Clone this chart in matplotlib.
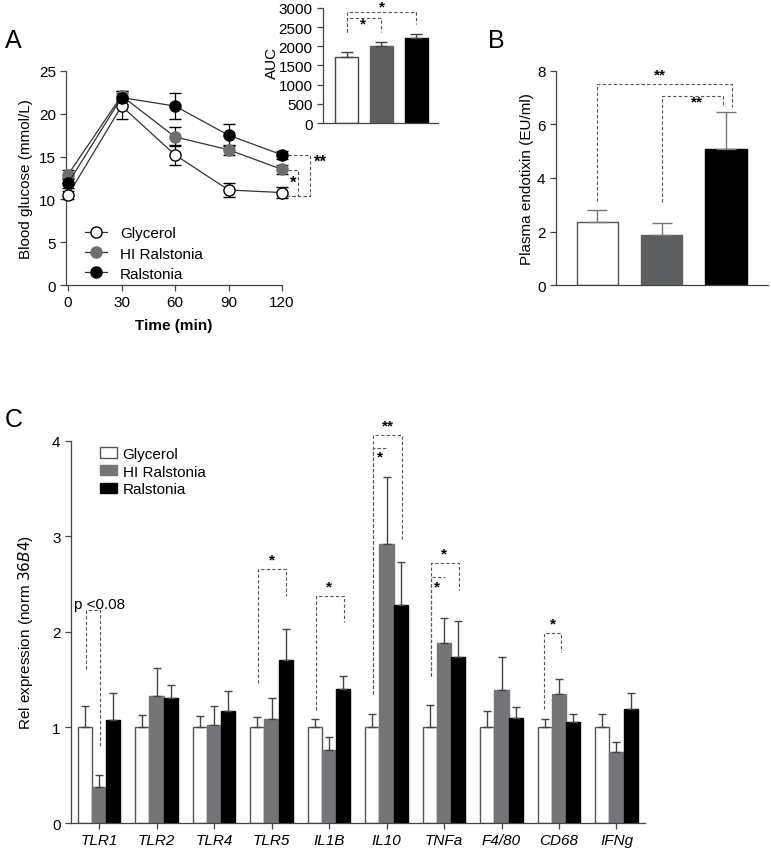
import matplotlib
matplotlib.use("Agg")
import matplotlib.pyplot as plt
from matplotlib.lines import Line2D
import numpy as np

plt.rcParams["font.family"] = ["Liberation Sans", "DejaVu Sans"]
plt.rcParams["font.size"] = 11

# ── data ─────────────────────────────────────────────────────────────
groups = ["Glycerol", "HI Ralstonia", "Ralstonia"]

# panel A: glucose tolerance test
time_min = [0, 30, 60, 90, 120]
gly_glucose = [10.5, 20.9, 15.2, 11.1, 10.8]
gly_glucose_err = [0.5, 1.5, 1.2, 0.8, 0.6]
hi_glucose = [12.9, 22.1, 17.3, 15.8, 13.5]
hi_glucose_err = [0.5, 0.6, 1.1, 0.6, 0.5]
ral_glucose = [11.9, 21.9, 20.9, 17.5, 15.2]
ral_glucose_err = [0.6, 0.8, 1.5, 1.3, 0.5]

# panel A inset: AUC
auc = [1720, 2000, 2210]
auc_err = [120, 100, 110]

# panel B: plasma endotoxin
endotoxin = [2.35, 1.88, 5.08]
endotoxin_err = [0.47, 0.42, 1.40]

# panel C: gene expression
genes = ["TLR1", "TLR2", "TLR4", "TLR5", "IL1B", "IL10", "TNFa", "F4/80", "CD68", "IFNg"]
gly_expr = [1.0, 1.0, 1.0, 1.0, 1.0, 1.0, 1.0, 1.0, 1.0, 1.0]
gly_expr_err = [0.22, 0.13, 0.12, 0.105, 0.085, 0.143, 0.24, 0.168, 0.085, 0.137]
hi_expr = [0.38, 1.328, 1.025, 1.088, 0.767, 2.915, 1.88, 1.39, 1.346, 0.74]
hi_expr_err = [0.125, 0.29, 0.20, 0.22, 0.13, 0.71, 0.27, 0.343, 0.165, 0.104]
ral_expr = [1.077, 1.307, 1.175, 1.71, 1.40, 2.28, 1.74, 1.095, 1.053, 1.19]
ral_expr_err = [0.28, 0.133, 0.205, 0.32, 0.135, 0.455, 0.37, 0.115, 0.084, 0.167]

GRAY_A = "#6d6e70"
GRAY_B = "#5d5f61"
GRAY_C = "#737578"
DASH = "#555555"
DASH_LS = (0, (3, 2))


def style_axes(ax):
    for side in ("top", "right"):
        ax.spines[side].set_visible(False)
    for side in ("left", "bottom"):
        ax.spines[side].set_color("#444444")
        ax.spines[side].set_linewidth(0.9)
    ax.tick_params(direction="out", color="#444444", width=0.9, length=4)


def dashed(ax, xs, ys):
    ax.plot(xs, ys, ls=DASH_LS, color=DASH, lw=0.8, clip_on=False)


def bracket(ax, x1, x2, y1, y2, ytop, text=None, tx=None, ty=None, size=11):
    dashed(ax, [x1, x1, x2, x2], [y1, ytop, ytop, y2])
    if text:
        ax.text(tx, ty, text, ha="center", va="center", fontsize=size,
                fontweight="bold")


fig = plt.figure(figsize=(7.71, 8.54), dpi=100)

# ── panel A ──────────────────────────────────────────────────────────
axA = fig.add_axes([0.086, 0.6651, 0.2798, 0.2506])
style_axes(axA)
series = [
    (gly_glucose, gly_glucose_err, "white", "black"),
    (hi_glucose, hi_glucose_err, GRAY_A, GRAY_A),
    (ral_glucose, ral_glucose_err, "black", "black"),
]
handles = []
for (vals, errs, face, edge), name in zip(series, groups):
    axA.errorbar(time_min, vals, yerr=errs, fmt="-o", color="#333333", lw=0.9,
                 ecolor="black", elinewidth=0.9, capsize=4, capthick=0.9,
                 markerfacecolor=face, markeredgecolor=edge, markeredgewidth=1.0,
                 markersize=8, clip_on=False, zorder=3)
    handles.append(Line2D([], [], color="#333333", lw=0.9, marker="o",
                          markerfacecolor=face, markeredgecolor=edge,
                          markeredgewidth=1.0, markersize=8, label=name))
axA.set_xlim(-1, 120)
axA.set_ylim(0, 25)
axA.set_xticks(time_min)
axA.set_yticks([0, 5, 10, 15, 20, 25])
axA.set_xlabel("Time (min)", fontweight="bold", labelpad=6)
axA.set_ylabel("Blood glucose (mmol/L)", labelpad=4)
axA.legend(handles=handles, loc="upper left", bbox_to_anchor=(0.058, 0.302),
           borderaxespad=0, frameon=False, handlelength=1.45,
           labelspacing=0.4, handletextpad=0.85, fontsize=11)
# significance brackets on the right
dashed(axA, [123.5, 135.7, 135.7, 123.5], [15.2, 15.2, 10.4, 10.4])
dashed(axA, [123.5, 129, 129, 123.5], [13.4, 13.4, 10.4, 10.4])
axA.text(141.5, 14.4, "**", fontsize=12, fontweight="bold", va="center", ha="center")
axA.text(126.5, 12.0, "*", fontsize=12, fontweight="bold", va="center", ha="center")
fig.text(0.006, 0.952, "A", fontsize=18, va="center")

# ── panel A inset: AUC ───────────────────────────────────────────────
axI = fig.add_axes([0.419, 0.8548, 0.149, 0.1347])
style_axes(axI)
xi = np.arange(len(groups))
axI.bar(xi, auc, width=0.657, color=["white", GRAY_B, "black"],
        edgecolor=["#444444", GRAY_B, "black"], linewidth=1.0)
axI.errorbar(xi, auc, yerr=[np.zeros(len(auc)), auc_err], fmt="none",
             ecolor="#444444", elinewidth=1.0, capsize=4.5, capthick=1.0)
axI.set_xlim(-0.671, 2.614)
axI.set_ylim(0, 3000)
axI.set_yticks(range(0, 3001, 500))
axI.set_xticks([])
fig.text(0.353, 0.926, "AUC", rotation=90, ha="center", va="center")
bracket(axI, 0.0, 2.0, 2374, 2583, 2896, "*", 1.0, 3052)
bracket(axI, 0.0, 1.0, 2374, 2374, 2739, "*", 0.47, 2583)

# ── panel B ──────────────────────────────────────────────────────────
axB = fig.add_axes([0.7211, 0.6651, 0.275, 0.2506])
style_axes(axB)
xb = np.arange(len(groups))
axB.bar(xb, endotoxin, width=0.646, color=["white", GRAY_B, "black"],
        edgecolor=["#555555", GRAY_B, "black"], linewidth=1.0)
axB.errorbar(xb, endotoxin, yerr=[np.zeros(len(endotoxin)), endotoxin_err],
             fmt="none", ecolor="#777777", elinewidth=1.0, capsize=7.5, capthick=1.0)
axB.set_xlim(-0.646, 2.654)
axB.set_ylim(0, 8)
axB.set_yticks([0, 2, 4, 6, 8])
axB.set_xticks([])
axB.set_ylabel("Plasma endotixin (EU/ml)", labelpad=2)
bracket(axB, 0.0, 2.1, 3.15, 6.65, 7.51, "**", 0.97, 7.86)
bracket(axB, 1.0, 1.95, 3.1, 6.65, 7.05, "**", 1.55, 6.85)
fig.text(0.633, 0.952, "B", fontsize=18, va="center")

# ── panel C ──────────────────────────────────────────────────────────
axC = fig.add_axes([0.0921, 0.0351, 0.7445, 0.4477])
style_axes(axC)
xc = np.arange(len(genes))
off = 0.245
bw = 0.245
axC.bar(xc - off, gly_expr, width=bw, color="white", edgecolor="#555555",
        linewidth=1.0, label=groups[0])
axC.bar(xc, hi_expr, width=bw, color=GRAY_C, edgecolor=GRAY_C,
        linewidth=1.0, label=groups[1])
axC.bar(xc + off, ral_expr, width=bw, color="black", edgecolor="black",
        linewidth=1.0, label=groups[2])
for xs, vals, errs in [(xc - off, gly_expr, gly_expr_err),
                       (xc, hi_expr, hi_expr_err),
                       (xc + off, ral_expr, ral_expr_err)]:
    axC.errorbar(xs, vals, yerr=[np.zeros(len(vals)), errs], fmt="none",
                 ecolor="#444444", elinewidth=1.0, capsize=2.8, capthick=1.0)
axC.set_xlim(-0.487, 9.496)
axC.set_ylim(0, 4)
axC.set_yticks([0, 1, 2, 3, 4])
axC.set_xticks(xc)
axC.set_xticklabels(genes, fontstyle="italic", fontsize=11)
axC.set_ylabel("Rel expression (norm $\\mathit{36B4}$)", labelpad=12)
axC.legend(loc="upper left", bbox_to_anchor=(0.04, 1.0), borderaxespad=0,
           frameon=False, handlelength=1.1, handleheight=0.65,
           labelspacing=0.25, handletextpad=0.37, fontsize=11)

bracket(axC, -0.231, 0.017, 1.61, 0.79, 2.23)
axC.text(-0.43, 2.29, "p <0.08", fontsize=11, va="center", ha="left")
bracket(axC, 2.76, 3.252, 1.47, 2.37, 2.657, "*", 3.0, 2.755)
bracket(axC, 3.774, 4.266, 1.185, 2.1, 2.378, "*", 4.0, 2.476)
bracket(axC, 4.77, 5.264, 1.35, 2.97, 4.06, "**", 5.03, 4.16)
bracket(axC, 4.77, 5.03, 1.35, 3.92, 3.92, "*", 4.88, 3.835)
bracket(axC, 5.769, 6.26, 1.54, 2.44, 2.72, "*", 6.0, 2.82)
bracket(axC, 5.769, 6.017, 1.54, 2.57, 2.57, "*", 5.88, 2.48)
bracket(axC, 7.744, 8.035, 1.19, 1.79, 1.987, "*", 7.89, 2.09)
fig.text(0.006, 0.508, "C", fontsize=18, va="center")

fig.savefig("out.png", dpi=100)
